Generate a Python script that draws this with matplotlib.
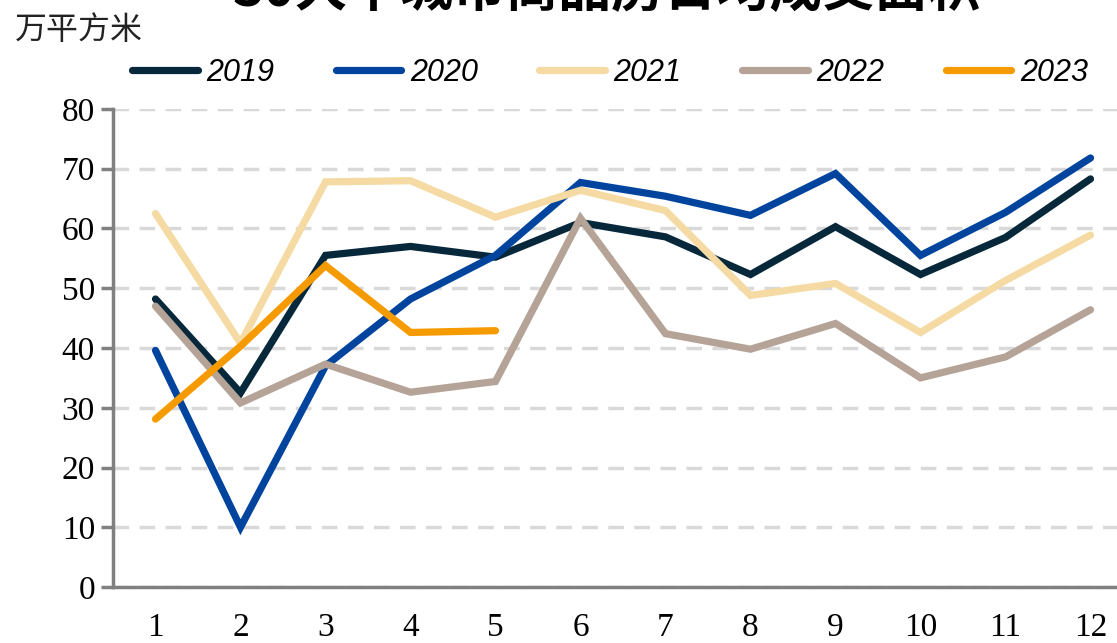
import matplotlib
matplotlib.use("Agg")
import matplotlib.pyplot as plt
from matplotlib.lines import Line2D

months = [1, 2, 3, 4, 5, 6, 7, 8, 9, 10, 11, 12]
month_labels = ["1", "2", "3", "4", "5", "6", "7", "8", "9", "10", "11", "12"]
s2019 = [48.2, 32.5, 55.5, 57.0, 55.2, 61.0, 58.6, 52.3, 60.3, 52.3, 58.5, 68.3]
s2020 = [39.6, 10.0, 37.0, 48.2, 55.5, 67.7, 65.4, 62.2, 69.2, 55.5, 62.7, 71.8]
s2021 = [62.5, 40.8, 67.8, 68.0, 61.9, 66.4, 63.0, 48.8, 50.8, 42.6, 51.3, 58.9]
s2022 = [47.0, 30.8, 37.3, 32.6, 34.4, 61.7, 42.4, 39.8, 44.1, 35.0, 38.5, 46.4]
s2023 = [28.1, 40.3, 53.8, 42.6, 42.9]
years = ["2019", "2020", "2021", "2022", "2023"]
colors = ["#06283a", "#00449e", "#f5dba3", "#b4a396", "#f59b00"]
yticks = [0, 10, 20, 30, 40, 50, 60, 70, 80]

W, H = 1117, 643
fig = plt.figure(figsize=(W / 100, H / 100), dpi=100)
ax = fig.add_axes([113 / W, 1 - 587 / H, (1133 - 113) / W, (587 - 109) / H])

series = [s2019, s2020, s2021, s2022, s2023]
for name, vals, c in zip(years, series, colors):
    ax.plot(months[:len(vals)], vals, color=c, lw=5.2, solid_capstyle="round",
            solid_joinstyle="miter", label=name, zorder=3)

ax.set_xlim(0.5, 12.5)
ax.set_ylim(0, 80)
ax.set_yticks(yticks)
ax.set_yticklabels([str(v) for v in yticks], family="Liberation Serif", fontsize=24)
ax.set_xticks(months)
ax.set_xticklabels(month_labels, family="Liberation Serif", fontsize=24)
ax.tick_params(axis="x", length=0, pad=18)
ax.tick_params(axis="y", length=9, width=2.5, color="#808080", pad=4, direction="out")
ax.grid(axis="y", color="#d9d9d9", lw=2.5, linestyle=(0, (4.5, 3)), zorder=0)
for s in ["top", "right"]:
    ax.spines[s].set_visible(False)
for s in ["left", "bottom"]:
    ax.spines[s].set_color("#808080")
    ax.spines[s].set_linewidth(2.5)

handles = [Line2D([0], [0], color=c, lw=5.2, solid_capstyle="round") for c in colors]
fig.legend(handles, years, loc="center", bbox_to_anchor=(610 / W, 1 - 73 / H), ncol=5,
           frameon=False, prop={"family": "Liberation Sans", "style": "italic", "size": 22},
           handlelength=2.15, handletextpad=0.28, columnspacing=2.0)

fig.text(15 / W, 1 - 30 / H, "万平方米", family=["Noto Sans CJK SC", "DejaVu Sans"],
         fontsize=23, ha="left", va="center", color="#222222")
fig.text(607 / W, 1 + 10 / H, "30大中城市商品房日均成交面积",
         family=["Noto Sans CJK SC", "DejaVu Sans"], fontsize=38, fontweight="bold",
         ha="center", va="center", color="black")

fig.savefig("out.png", dpi=100)
